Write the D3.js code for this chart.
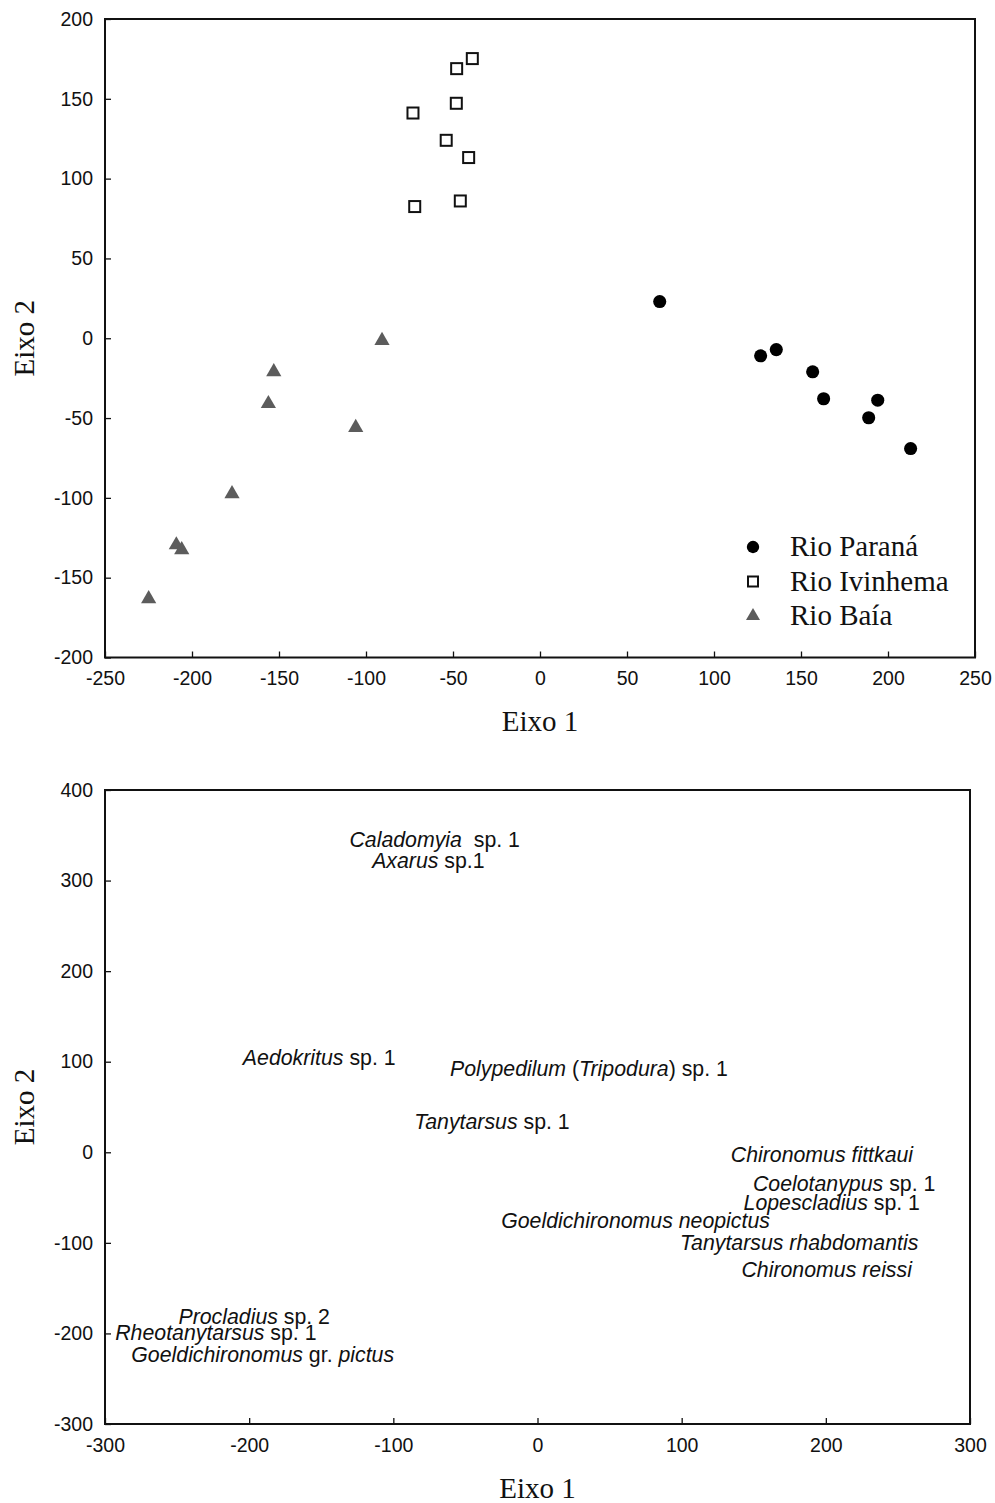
<!DOCTYPE html>
<html>
<head>
<meta charset="utf-8">
<script src="https://cdn.jsdelivr.net/npm/d3@7"></script>
<style>
  html, body { margin: 0; padding: 0; background: #fff; }
  svg { display: block; }
</style>
</head>
<body>
<script>
// ---- Site scores (ordination, axes 1 and 2) ----
const paranaAxis1 = [68.8, 126.8, 135.8, 156.7, 163.0, 194.1, 188.9, 213.0];
const paranaAxis2 = [23.0, -11.0, -7.1, -21.0, -37.9, -38.8, -49.8, -69.1];

const ivinhemaAxis1 = [-38.9, -47.9, -48.1, -73.0, -53.9, -41.0, -45.8, -72.0];
const ivinhemaAxis2 = [175.2, 168.9, 147.2, 141.1, 124.0, 113.2, 86.0, 82.5];

const baiaAxis1 = [-90.8, -153.0, -156.1, -105.9, -177.0, -209.0, -205.9, -224.9];
const baiaAxis2 = [-1.5, -21.0, -41.0, -56.0, -97.5, -129.5, -132.5, -163.2];

const seriesNames = ["Rio Paraná", "Rio Ivinhema", "Rio Baía"];

// ---- Species scores (label centres); each name is a list of [text, italic] parts ----
const speciesNames = [
  [["Caladomyia", true], ["  sp. 1", false]],
  [["Axarus", true], [" sp.1", false]],
  [["Aedokritus", true], [" sp. 1", false]],
  [["Polypedilum", true], [" (", false], ["Tripodura", true], [") sp. 1", false]],
  [["Tanytarsus", true], [" sp. 1", false]],
  [["Chironomus fittkaui", true]],
  [["Coelotanypus", true], [" sp. 1", false]],
  [["Lopescladius", true], [" sp. 1", false]],
  [["Goeldichironomus neopictus", true]],
  [["Tanytarsus rhabdomantis", true]],
  [["Chironomus reissi", true]],
  [["Procladius", true], [" sp. 2", false]],
  [["Rheotanytarsus", true], [" sp. 1", false]],
  [["Goeldichironomus", true], [" gr. ", false], ["pictus", true]]
];
const speciesAxis1 = [-71.3, -75.7, -151.4, 35.7, -31.6, 197.3, 212.7, 204.1, 68.0, 181.5, 200.6, -196.5, -223.1, -190.6];
const speciesAxis2 = [345.7, 322.2, 104.7, 92.9, 34.5, -2.1, -34.4, -55.4, -75.0, -99.6, -129.1, -181.3, -199.0, -222.9];

// ---- Tick values ----
const topTicksX = [-250, -200, -150, -100, -50, 0, 50, 100, 150, 200, 250];
const topTicksY = [-200, -150, -100, -50, 0, 50, 100, 150, 200];
const botTicksX = [-300, -200, -100, 0, 100, 200, 300];
const botTicksY = [-300, -200, -100, 0, 100, 200, 300, 400];

const axisTitleX = "Eixo 1";
const axisTitleY = "Eixo 2";

const W = 995, H = 1503;
const svg = d3.select("body").append("svg").attr("width", W).attr("height", H);

const serif = "'Liberation Serif', 'Times New Roman', serif";
const sans = "'Liberation Sans', Arial, sans-serif";
const plainNumber = d => String(d); // ASCII hyphen for negatives

function drawFrame(g, x, y, ticksX, ticksY, titleXPos) {
  const [x0, x1] = x.range();
  const [y0, y1] = y.range(); // y0 bottom, y1 top

  const ax = g.append("g").attr("transform", `translate(0,${y0})`)
    .call(d3.axisBottom(x).tickValues(ticksX).tickSizeInner(-6).tickSizeOuter(0).tickPadding(14).tickFormat(plainNumber));
  const ay = g.append("g").attr("transform", `translate(${x0},0)`)
    .call(d3.axisLeft(y).tickValues(ticksY).tickSizeInner(-6).tickSizeOuter(0).tickPadding(12).tickFormat(plainNumber));
  [ax, ay].forEach(a => {
    a.select(".domain").remove();
    a.selectAll(".tick line").attr("stroke", "#111").attr("stroke-width", 1.3);
    a.selectAll(".tick text").attr("font-size", 19.5).attr("fill", "#111").attr("font-family", sans);
  });

  g.append("rect")
    .attr("x", x0).attr("y", y1)
    .attr("width", x1 - x0).attr("height", y0 - y1)
    .attr("fill", "none").attr("stroke", "#111").attr("stroke-width", 2);

  g.append("text")
    .attr("x", (x0 + x1) / 2).attr("y", titleXPos)
    .attr("text-anchor", "middle")
    .attr("font-family", serif).attr("font-size", 29).attr("fill", "#111")
    .text(axisTitleX);

  g.append("text")
    .attr("transform", `translate(34,${(y0 + y1) / 2}) rotate(-90)`)
    .attr("text-anchor", "middle")
    .attr("font-family", serif).attr("font-size", 29).attr("fill", "#111")
    .text(axisTitleY);
}

// ================= Top panel: sites =================
const gTop = svg.append("g");
const xTop = d3.scaleLinear().domain([-250, 250]).range([105, 975]);
const yTop = d3.scaleLinear().domain([-200, 200]).range([657.5, 19]);
drawFrame(gTop, xTop, yTop, topTicksX, topTicksY, 731);

const parana = paranaAxis1.map((v, i) => ({ x: v, y: paranaAxis2[i] }));
const ivinhema = ivinhemaAxis1.map((v, i) => ({ x: v, y: ivinhemaAxis2[i] }));
const baia = baiaAxis1.map((v, i) => ({ x: v, y: baiaAxis2[i] }));

const circleSym = d3.symbol().type(d3.symbolCircle).size(135);
const triSym = d3.symbol().type(d3.symbolTriangle).size(100);

gTop.append("g").selectAll("path").data(baia).join("path")
  .attr("transform", d => `translate(${xTop(d.x)},${yTop(d.y)})`)
  .attr("d", triSym).attr("fill", "#5c5c5c");

gTop.append("g").selectAll("rect").data(ivinhema).join("rect")
  .attr("x", d => xTop(d.x) - 5.5).attr("y", d => yTop(d.y) - 5.5)
  .attr("width", 11).attr("height", 11)
  .attr("fill", "#fff").attr("stroke", "#111").attr("stroke-width", 2);

gTop.append("g").selectAll("path").data(parana).join("path")
  .attr("transform", d => `translate(${xTop(d.x)},${yTop(d.y)})`)
  .attr("d", circleSym).attr("fill", "#000");

// Legend
const legend = gTop.append("g").attr("transform", "translate(753,547)");
seriesNames.forEach((name, i) => {
  const row = legend.append("g").attr("transform", `translate(0,${i * 34.5})`);
  if (i === 0) row.append("path").attr("d", d3.symbol().type(d3.symbolCircle).size(120)).attr("fill", "#000");
  if (i === 1) row.append("rect").attr("x", -5).attr("y", -5).attr("width", 10).attr("height", 10)
    .attr("fill", "#fff").attr("stroke", "#111").attr("stroke-width", 2);
  if (i === 2) row.append("path").attr("d", d3.symbol().type(d3.symbolTriangle).size(85)).attr("fill", "#5c5c5c");
  row.append("text")
    .attr("x", 37).attr("y", 9)
    .attr("font-family", serif).attr("font-size", 29).attr("fill", "#111")
    .text(name);
});

// ================= Bottom panel: species =================
const gBot = svg.append("g");
const xBot = d3.scaleLinear().domain([-300, 300]).range([105, 970]);
const yBot = d3.scaleLinear().domain([-300, 400]).range([1424, 790]);
drawFrame(gBot, xBot, yBot, botTicksX, botTicksY, 1498);

const species = speciesNames.map((parts, i) => ({ parts, x: speciesAxis1[i], y: speciesAxis2[i] }));
gBot.append("g").selectAll("text").data(species).join("text")
  .attr("x", d => xBot(d.x)).attr("y", d => yBot(d.y))
  .attr("dy", "0.36em")
  .attr("text-anchor", "middle")
  .attr("font-family", sans).attr("font-size", 21.3).attr("fill", "#111")
  .style("white-space", "pre")
  .each(function (d) {
    const t = d3.select(this);
    d.parts.forEach(([s, it]) => {
      t.append("tspan").attr("font-style", it ? "italic" : "normal").text(s);
    });
  });
</script>
</body>
</html>
